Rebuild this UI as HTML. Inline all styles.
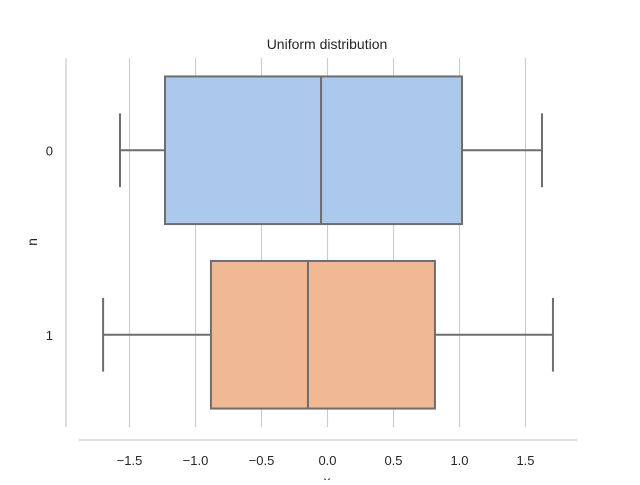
<!DOCTYPE html>
<html><head><meta charset="utf-8"><style>
body{margin:0;background:#fff;font-family:"Liberation Sans","DejaVu Sans",sans-serif}
</style></head><body>
<svg width="640" height="480" xmlns="http://www.w3.org/2000/svg" font-family="Liberation Sans, DejaVu Sans, sans-serif">
<g id="grid"></g>
<line x1="66" y1="58" x2="66" y2="427" stroke="#cccccc" stroke-width="1.25"/>
<line x1="79" y1="440" x2="577" y2="440" stroke="#cccccc" stroke-width="1.25"/>
<g id="xticks"></g>
<g id="yticks"></g>
<g id="boxes"></g>
<text x="327" y="49" text-anchor="middle" font-size="14" fill="#262626">Uniform distribution</text>
<text x="327" y="486" text-anchor="middle" font-size="14" fill="#262626">x</text>
<text x="37" y="242" text-anchor="middle" font-size="14" fill="#262626" transform="rotate(-90 37 242)">n</text>
</svg>
<script>
const categories = ["0", "1"];
const whiskerLow = [-1.572, -1.70];
const q1 = [-1.231, -0.883];
const median = [-0.049, -0.148];
const q3 = [1.019, 0.814];
const whiskerHigh = [1.625, 1.708];
const xTicks = [-1.5, -1.0, -0.5, 0.0, 0.5, 1.0, 1.5];
const xTickLabels = ["\u22121.5", "\u22121.0", "\u22120.5", "0.0", "0.5", "1.0", "1.5"];
const colors = ["#abc9ed", "#f0b893"];

const NS = "http://www.w3.org/2000/svg";
const xs = v => 327.5 + v * 132;
const plotTop = 58, plotBot = 427, band = (plotBot - plotTop) / categories.length;
const yc = i => plotTop + band * (i + 0.5);
function mk(tag, attrs, parent) {
  const e = document.createElementNS(NS, tag);
  for (const k in attrs) e.setAttribute(k, attrs[k]);
  parent.appendChild(e);
  return e;
}
const grid = document.getElementById("grid"), xt = document.getElementById("xticks"),
      yt = document.getElementById("yticks"), bx = document.getElementById("boxes");
xTicks.forEach((t, i) => {
  const l = mk("line", {x1: xs(t), x2: xs(t), y1: plotTop, y2: plotBot, stroke: "#cccccc", "stroke-width": 1.1}, grid);
  
  
  const tx = mk("text", {x: xs(t), y: 465, "text-anchor": "middle", "font-size": 13, fill: "#262626"}, xt);
  tx.textContent = xTickLabels[i];
  
  
});
categories.forEach((c, i) => {
  const y = yc(i), h = band * 0.8, g = mk("g", {}, bx);
  
  
  const tx = mk("text", {x: 53, y: y + 5, "text-anchor": "end", "font-size": 13, fill: "#262626"}, yt);
  tx.textContent = c;
  
  
  const st = {stroke: "#6e6e6e", "stroke-width": 2};
  const w1 = mk("line", Object.assign({x1: xs(whiskerLow[i]), x2: xs(q1[i]), y1: y, y2: y}, st), g);
  
  
  const w2 = mk("line", Object.assign({x1: xs(q3[i]), x2: xs(whiskerHigh[i]), y1: y, y2: y}, st), g);
  
  
  const c1 = mk("line", Object.assign({x1: xs(whiskerLow[i]), x2: xs(whiskerLow[i]), y1: y - h / 4, y2: y + h / 4}, st), g);
  
  
  const c2 = mk("line", Object.assign({x1: xs(whiskerHigh[i]), x2: xs(whiskerHigh[i]), y1: y - h / 4, y2: y + h / 4}, st), g);
  
  
  const r = mk("rect", Object.assign({x: xs(q1[i]), y: y - h / 2, width: xs(q3[i]) - xs(q1[i]), height: h, fill: colors[i]}, st), g);
  
  
  const m = mk("line", Object.assign({x1: xs(median[i]), x2: xs(median[i]), y1: y - h / 2, y2: y + h / 2}, st), g);
  
  
});
</script>
</body></html>
